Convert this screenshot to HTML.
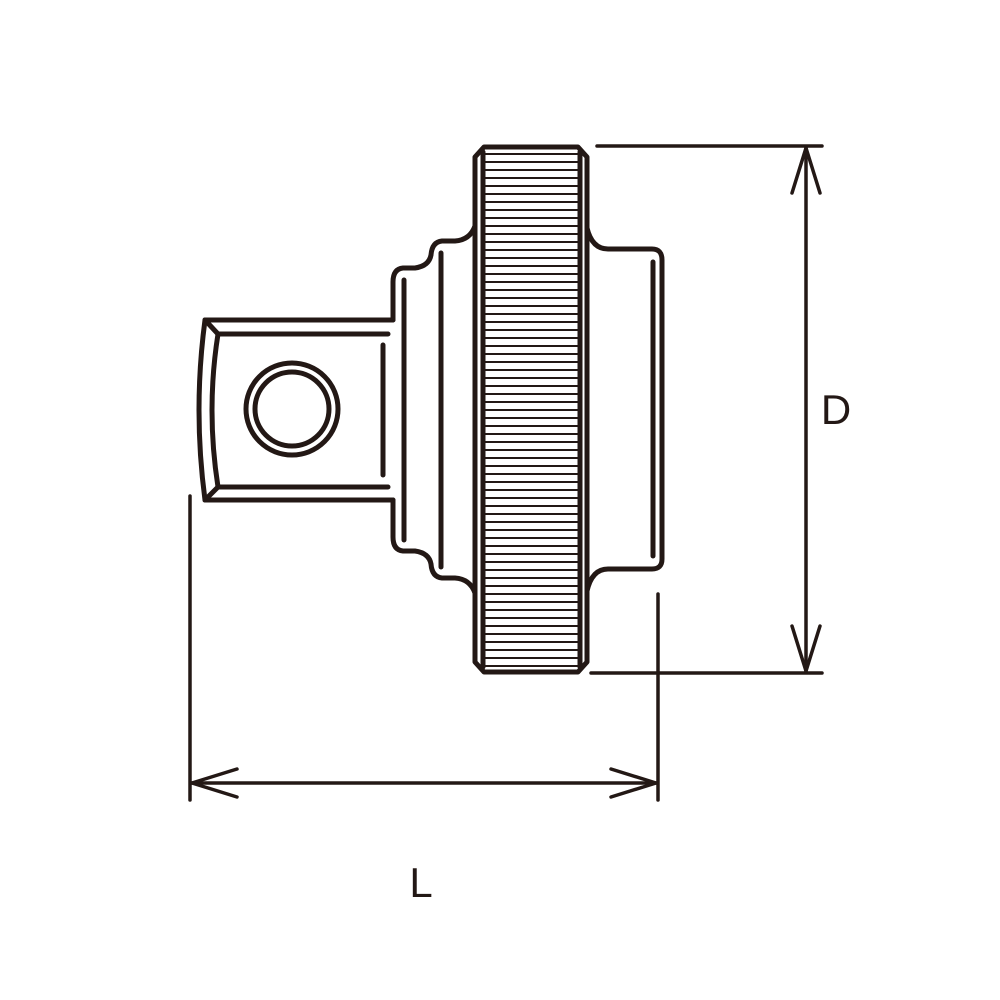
<!DOCTYPE html>
<html><head><meta charset="utf-8"><style>
html,body{margin:0;padding:0;background:#fff;width:1000px;height:1000px;overflow:hidden}
</style></head><body>
<svg width="1000" height="1000" viewBox="0 0 1000 1000" xmlns="http://www.w3.org/2000/svg">
<g fill="none" stroke="#231815" stroke-width="5" stroke-linejoin="round" stroke-linecap="round">
<!-- knurl lines -->
<g stroke-width="2" stroke-linecap="butt">
<line x1="484" y1="154" x2="580" y2="154"/><line x1="484" y1="162" x2="580" y2="162"/><line x1="484" y1="170" x2="580" y2="170"/><line x1="484" y1="178" x2="580" y2="178"/><line x1="484" y1="186" x2="580" y2="186"/><line x1="484" y1="194" x2="580" y2="194"/><line x1="484" y1="202" x2="580" y2="202"/><line x1="484" y1="210" x2="580" y2="210"/><line x1="484" y1="218" x2="580" y2="218"/><line x1="484" y1="226" x2="580" y2="226"/><line x1="484" y1="234" x2="580" y2="234"/><line x1="484" y1="242" x2="580" y2="242"/><line x1="484" y1="250" x2="580" y2="250"/><line x1="484" y1="258" x2="580" y2="258"/><line x1="484" y1="266" x2="580" y2="266"/><line x1="484" y1="274" x2="580" y2="274"/><line x1="484" y1="282" x2="580" y2="282"/><line x1="484" y1="290" x2="580" y2="290"/><line x1="484" y1="298" x2="580" y2="298"/><line x1="484" y1="306" x2="580" y2="306"/><line x1="484" y1="314" x2="580" y2="314"/><line x1="484" y1="322" x2="580" y2="322"/><line x1="484" y1="330" x2="580" y2="330"/><line x1="484" y1="338" x2="580" y2="338"/><line x1="484" y1="346" x2="580" y2="346"/><line x1="484" y1="354" x2="580" y2="354"/><line x1="484" y1="362" x2="580" y2="362"/><line x1="484" y1="370" x2="580" y2="370"/><line x1="484" y1="378" x2="580" y2="378"/><line x1="484" y1="386" x2="580" y2="386"/><line x1="484" y1="394" x2="580" y2="394"/><line x1="484" y1="402" x2="580" y2="402"/><line x1="484" y1="410" x2="580" y2="410"/><line x1="484" y1="418" x2="580" y2="418"/><line x1="484" y1="426" x2="580" y2="426"/><line x1="484" y1="434" x2="580" y2="434"/><line x1="484" y1="442" x2="580" y2="442"/><line x1="484" y1="450" x2="580" y2="450"/><line x1="484" y1="458" x2="580" y2="458"/><line x1="484" y1="466" x2="580" y2="466"/><line x1="484" y1="474" x2="580" y2="474"/><line x1="484" y1="482" x2="580" y2="482"/><line x1="484" y1="490" x2="580" y2="490"/><line x1="484" y1="498" x2="580" y2="498"/><line x1="484" y1="506" x2="580" y2="506"/><line x1="484" y1="514" x2="580" y2="514"/><line x1="484" y1="522" x2="580" y2="522"/><line x1="484" y1="530" x2="580" y2="530"/><line x1="484" y1="538" x2="580" y2="538"/><line x1="484" y1="546" x2="580" y2="546"/><line x1="484" y1="554" x2="580" y2="554"/><line x1="484" y1="562" x2="580" y2="562"/><line x1="484" y1="570" x2="580" y2="570"/><line x1="484" y1="578" x2="580" y2="578"/><line x1="484" y1="586" x2="580" y2="586"/><line x1="484" y1="594" x2="580" y2="594"/><line x1="484" y1="602" x2="580" y2="602"/><line x1="484" y1="610" x2="580" y2="610"/><line x1="484" y1="618" x2="580" y2="618"/><line x1="484" y1="626" x2="580" y2="626"/><line x1="484" y1="634" x2="580" y2="634"/><line x1="484" y1="642" x2="580" y2="642"/><line x1="484" y1="650" x2="580" y2="650"/><line x1="484" y1="658" x2="580" y2="658"/><line x1="484" y1="666" x2="580" y2="666"/>
</g>
<!-- ring -->
<path d="M484,147 L578,147 L587,157 L587,662 L578,672 L484,672 L475,662 L475,157 Z"/>
<line x1="483" y1="152" x2="483" y2="667"/>
<line x1="580" y1="152" x2="580" y2="667"/>
<!-- left stepped body -->
<path d="M475,226 Q470,240 455,241 L442,241 Q432,242 431,255 Q429,266 415,268 L403,268 Q393,269 393,282 L393,320"/>
<path d="M475,593 Q470,579 455,578 L442,578 Q432,577 431,564 Q429,553 415,551 L403,551 Q393,550 393,537 L393,500"/>
<line x1="441" y1="253" x2="441" y2="567"/>
<line x1="404" y1="280" x2="404" y2="540"/>
<!-- right body -->
<path d="M587,228 Q592,249 608,249 L652,249 Q662,249 662,260 L662,559 Q662,569 652,569 L608,569 Q592,569 587,591"/>
<line x1="653" y1="262" x2="653" y2="556"/>
<!-- square drive -->
<path d="M393,320 L205,320 Q193,410 205,500 L393,500"/>
<path d="M388,334 L218,334 Q206,410 218,487 L388,487"/>
<line x1="205" y1="320" x2="218" y2="334"/>
<line x1="205" y1="500" x2="218" y2="487"/>
<line x1="383" y1="345" x2="383" y2="475"/>
<circle cx="292" cy="409" r="46"/>
<circle cx="292" cy="409" r="37"/>
<!-- D dimension -->
<g stroke-width="3.5">
<line x1="597" y1="146" x2="822" y2="146"/>
<line x1="591" y1="673" x2="822" y2="673"/>
<line x1="806" y1="148" x2="806" y2="671"/>
<polyline points="792,193 806,148 820,193"/>
<polyline points="792,626 806,671 820,626"/>
<!-- L dimension -->
<line x1="190" y1="496" x2="190" y2="800"/>
<line x1="658" y1="594" x2="658" y2="800"/>
<line x1="192" y1="783" x2="656" y2="783"/>
<polyline points="237,769 192,783 237,797"/>
<polyline points="611,769 656,783 611,797"/>
</g>
</g>
<text x="836" y="424" font-family="Liberation Sans, sans-serif" font-size="42" fill="#231815" text-anchor="middle">D</text>
<text x="421" y="897" font-family="Liberation Sans, sans-serif" font-size="42" fill="#231815" text-anchor="middle">L</text>
</svg>
</body></html>
